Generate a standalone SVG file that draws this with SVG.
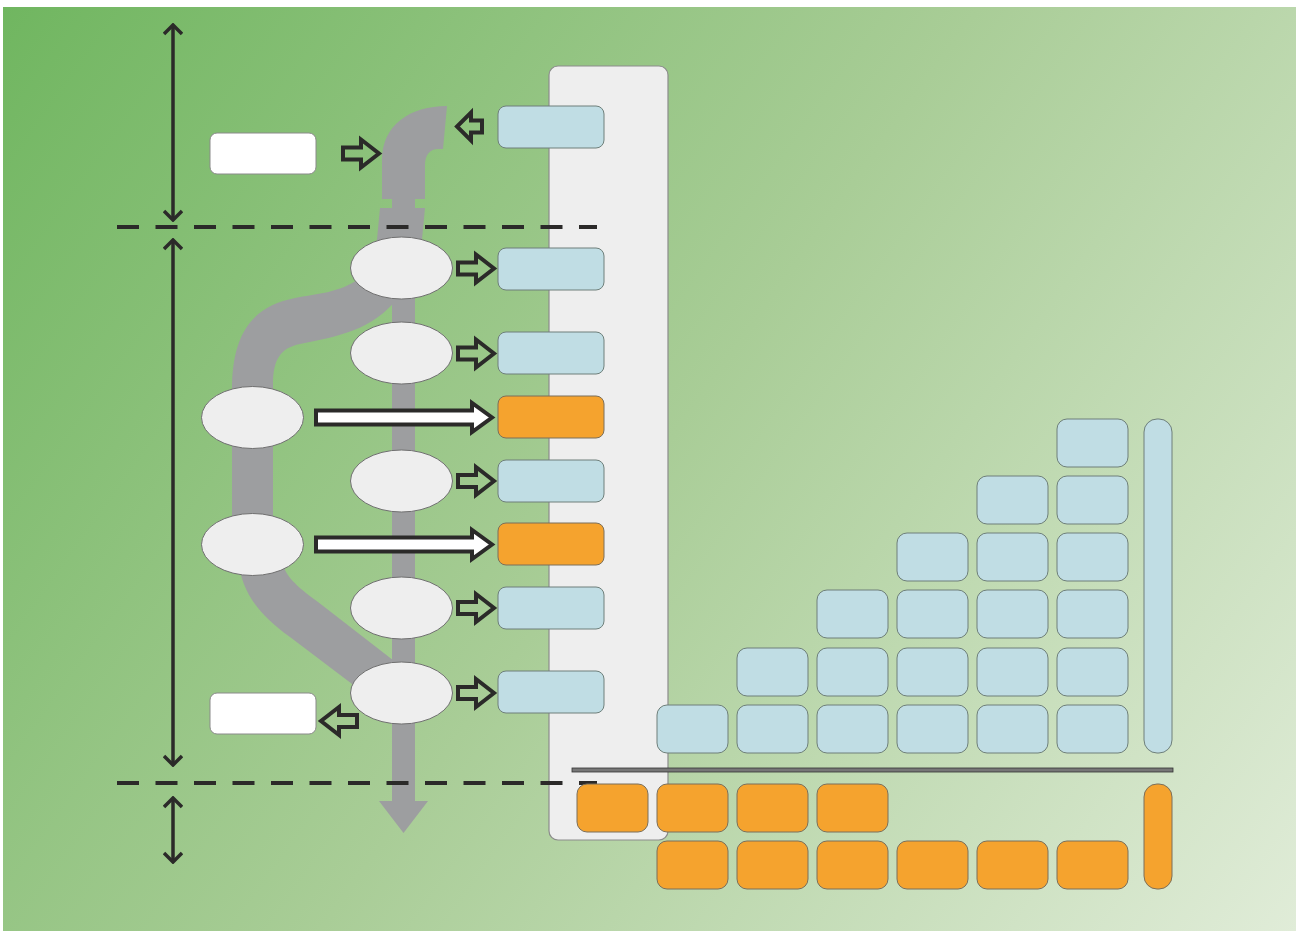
<svg xmlns="http://www.w3.org/2000/svg" width="1296" height="931" viewBox="0 0 1296 931">
  <defs>
    <linearGradient id="bg" gradientUnits="userSpaceOnUse" x1="3" y1="7" x2="1296" y2="931">
      <stop offset="0" stop-color="#70b660"/>
      <stop offset="0.5" stop-color="#a9cd97"/>
      <stop offset="1" stop-color="#e0ecd8"/>
    </linearGradient>
    <marker id="chev" viewBox="0 0 20 20" refX="18" refY="10" markerWidth="20" markerHeight="20" markerUnits="userSpaceOnUse" orient="auto-start-reverse">
      <path d="M9,1 L18,10 L9,19" fill="none" stroke="#2b2a29" stroke-width="3.5"/>
    </marker>
    <!-- small hollow block arrow pointing right, origin at tail centre -->
    <path id="bArrow" d="M2,-6 H20 V-14 L38,0 L20,14 V6 H2 Z"/>
  </defs>
  <style>
    .blue{fill:#c0dde4;stroke:#6e7f7a;stroke-width:1}
    .orange{fill:#f5a32e;stroke:#7b6f5a;stroke-width:1}
    .white{fill:#ffffff;stroke:#8a8a8a;stroke-width:1}
    .ell{fill:#eeeeee;stroke:#6f6f6f;stroke-width:1}
    .pipe{fill:#9d9ea0}
    .dash{stroke:#2b2a29;stroke-width:4;stroke-dasharray:22 16.5;fill:none}
    .dim{stroke:#2b2a29;stroke-width:3.5;fill:none}
    .barrow{fill:none;stroke:#2b2a29;stroke-width:4;stroke-linejoin:miter}
    .warrow{fill:#ffffff;stroke:#2b2a29;stroke-width:4;stroke-linejoin:miter}
  </style>

  <!-- background -->
  <rect x="3" y="7" width="1293" height="924" fill="url(#bg)"/>

  <!-- column panel -->
  <rect id="panel" x="549" y="66" width="119" height="774" rx="9" fill="#eeeeee" stroke="#8c8c8c" stroke-width="1.2"/>

  <!-- pipe network -->
  <g id="pipes" class="pipe">
    <path d="M382,199 L382,160 C382,125 410,106 447,106 L443,149 L438,149 C430,149 425,155 425,165 L425,199 Z"/>
    <rect x="392" y="196" width="23" height="14"/>
    <path d="M380,208 L425,208 L421,250 L376,250 Z"/>
    <path d="M360,278 C340,293 315,294 295,298 C255,306 232,330 232,390 L232,530 L273,530 L273,385 C273,360 280,348 300,344 C340,336 372,330 398,298 Z"/>
    <path d="M238,560 C242,590 255,612 290,637 L360,690 L398,664 L318,602 C296,586 284,575 282,560 Z"/>
    <rect x="392" y="240" width="23" height="562"/>
    <polygon points="379,801 428,801 403.5,833"/>
  </g>

  <!-- phase separators -->
  <g id="separators">
    <line class="dash" x1="117" y1="227" x2="597" y2="227"/>
    <line class="dash" x1="117" y1="783" x2="597" y2="783"/>
  </g>

  <!-- dimension arrows -->
  <g id="dimensions">
    <line class="dim" x1="173" y1="25" x2="173" y2="220" marker-start="url(#chev)" marker-end="url(#chev)"/>
    <line class="dim" x1="173" y1="240" x2="173" y2="765" marker-start="url(#chev)" marker-end="url(#chev)"/>
    <line class="dim" x1="173" y1="798" x2="173" y2="862" marker-start="url(#chev)" marker-end="url(#chev)"/>
  </g>

  <!-- process nodes -->
  <g id="node-e1"><ellipse class="ell" cx="401.5" cy="268" rx="51" ry="31"/></g>
  <g id="node-e2"><ellipse class="ell" cx="401.5" cy="353" rx="51" ry="31"/></g>
  <g id="node-e3"><ellipse class="ell" cx="401.5" cy="481" rx="51" ry="31"/></g>
  <g id="node-e4"><ellipse class="ell" cx="401.5" cy="608" rx="51" ry="31"/></g>
  <g id="node-e5"><ellipse class="ell" cx="401.5" cy="693" rx="51" ry="31"/></g>
  <g id="node-l1"><ellipse class="ell" cx="252.5" cy="417.5" rx="51" ry="31"/></g>
  <g id="node-l2"><ellipse class="ell" cx="252.5" cy="544.5" rx="51" ry="31"/></g>

  <g id="node-in"><rect class="white" x="210" y="133" width="106" height="41" rx="7"/></g>
  <g id="node-out"><rect class="white" x="210" y="693" width="106" height="41" rx="7"/></g>

  <!-- column boxes -->
  <g id="node-c1"><rect class="blue" x="498" y="106" width="106" height="42" rx="8"/></g>
  <g id="node-c2"><rect class="blue" x="498" y="248" width="106" height="42" rx="8"/></g>
  <g id="node-c3"><rect class="blue" x="498" y="332" width="106" height="42" rx="8"/></g>
  <g id="node-c4"><rect class="orange" x="498" y="396" width="106" height="42" rx="8"/></g>
  <g id="node-c5"><rect class="blue" x="498" y="460" width="106" height="42" rx="8"/></g>
  <g id="node-c6"><rect class="orange" x="498" y="523" width="106" height="42" rx="8"/></g>
  <g id="node-c7"><rect class="blue" x="498" y="587" width="106" height="42" rx="8"/></g>
  <g id="node-c8"><rect class="blue" x="498" y="671" width="106" height="42" rx="8"/></g>

  <!-- connectors -->
  <g id="connectors">
    <use href="#bArrow" class="barrow" transform="translate(341,153.5)"/>
    <path class="barrow" d="M482,120.5 H471 V112.5 L457,126.5 L471,140.5 V132.5 H482 Z"/>
    <use href="#bArrow" class="barrow" transform="translate(456,268.5)"/>
    <use href="#bArrow" class="barrow" transform="translate(456,353.5)"/>
    <use href="#bArrow" class="barrow" transform="translate(456,481)"/>
    <use href="#bArrow" class="barrow" transform="translate(456,608)"/>
    <use href="#bArrow" class="barrow" transform="translate(456,693)"/>
    <use href="#bArrow" class="barrow" transform="translate(359,721) scale(-1,1)"/>
    <path class="warrow" d="M316,410.5 H472 V403 L492,417.5 L472,432 V424.5 H316 Z"/>
    <path class="warrow" d="M316,537.5 H472 V530 L492,544.5 L472,559 V551.5 H316 Z"/>
  </g>

  <!-- stacked bar blocks -->
  <g id="grid">
    <g id="blue-stack">
      <rect class="blue" x="657" y="705" width="71" height="48" rx="10"/>
      <rect class="blue" x="737" y="648" width="71" height="48" rx="10"/>
      <rect class="blue" x="737" y="705" width="71" height="48" rx="10"/>
      <rect class="blue" x="817" y="590" width="71" height="48" rx="10"/>
      <rect class="blue" x="817" y="648" width="71" height="48" rx="10"/>
      <rect class="blue" x="817" y="705" width="71" height="48" rx="10"/>
      <rect class="blue" x="897" y="533" width="71" height="48" rx="10"/>
      <rect class="blue" x="897" y="590" width="71" height="48" rx="10"/>
      <rect class="blue" x="897" y="648" width="71" height="48" rx="10"/>
      <rect class="blue" x="897" y="705" width="71" height="48" rx="10"/>
      <rect class="blue" x="977" y="476" width="71" height="48" rx="10"/>
      <rect class="blue" x="977" y="533" width="71" height="48" rx="10"/>
      <rect class="blue" x="977" y="590" width="71" height="48" rx="10"/>
      <rect class="blue" x="977" y="648" width="71" height="48" rx="10"/>
      <rect class="blue" x="977" y="705" width="71" height="48" rx="10"/>
      <rect class="blue" x="1057" y="419" width="71" height="48" rx="10"/>
      <rect class="blue" x="1057" y="476" width="71" height="48" rx="10"/>
      <rect class="blue" x="1057" y="533" width="71" height="48" rx="10"/>
      <rect class="blue" x="1057" y="590" width="71" height="48" rx="10"/>
      <rect class="blue" x="1057" y="648" width="71" height="48" rx="10"/>
      <rect class="blue" x="1057" y="705" width="71" height="48" rx="10"/>
      <rect class="blue" x="1144" y="419" width="28" height="334" rx="13"/>
    </g>
    <rect id="baseline" x="572" y="768" width="601" height="4" fill="#777777" stroke="#333333" stroke-width="0.8"/>
    <g id="orange-stack">
      <rect class="orange" x="577" y="784" width="71" height="48" rx="10"/>
      <rect class="orange" x="657" y="784" width="71" height="48" rx="10"/>
      <rect class="orange" x="737" y="784" width="71" height="48" rx="10"/>
      <rect class="orange" x="817" y="784" width="71" height="48" rx="10"/>
      <rect class="orange" x="657" y="841" width="71" height="48" rx="10"/>
      <rect class="orange" x="737" y="841" width="71" height="48" rx="10"/>
      <rect class="orange" x="817" y="841" width="71" height="48" rx="10"/>
      <rect class="orange" x="897" y="841" width="71" height="48" rx="10"/>
      <rect class="orange" x="977" y="841" width="71" height="48" rx="10"/>
      <rect class="orange" x="1057" y="841" width="71" height="48" rx="10"/>
      <rect class="orange" x="1144" y="784" width="28" height="105" rx="13"/>
    </g>
  </g>
</svg>
